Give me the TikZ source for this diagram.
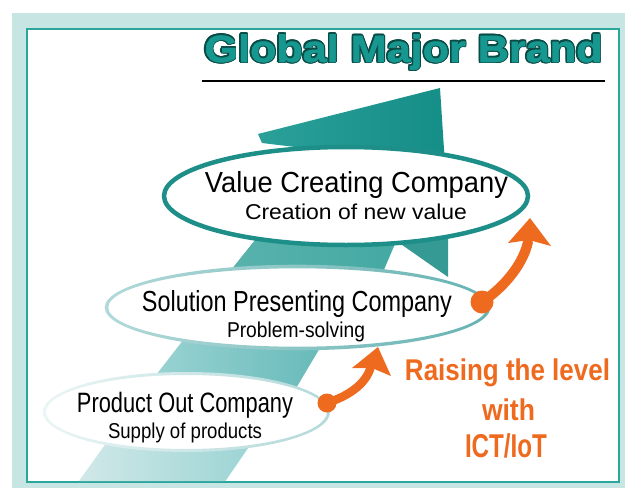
\documentclass[tikz,border=0pt]{standalone}
\usepackage{fontspec}
\setmainfont{Liberation Sans}
\newfontfamily\titleinner{Liberation Sans Bold}[FakeBold=1.5]
\usepackage{graphicx}
\definecolor{outerbg}{HTML}{C7E6E3}
\definecolor{framecol}{HTML}{2CA59C}
\definecolor{titlefill}{HTML}{16978F}
\definecolor{titleline}{HTML}{0B4B46}
\definecolor{vring}{HTML}{1E8F88}
\definecolor{headL}{HTML}{2AA099}
\definecolor{headR}{HTML}{158E87}
\definecolor{bandAL}{HTML}{5AB3AD}
\definecolor{bandAR}{HTML}{43A9A2}
\definecolor{arroworange}{HTML}{EE6A1F}
\newcommand{\gmbtitle}{\resizebox{398pt}{\height}{Global Major Brand}}
\begin{document}
\begin{tikzpicture}[x=1pt,y=-1pt,
  titlestyle/.style={font=\fontsize{38}{40}\selectfont\bfseries, anchor=base, inner sep=0},
  bigtxt/.style={font=\fontsize{29}{32}\selectfont, anchor=base, inner sep=0, text=black},
  smalltxt/.style={font=\fontsize{21.5}{24}\selectfont, anchor=base, inner sep=0, text=black},
  orangetxt/.style={font=\fontsize{30}{32}\selectfont\bfseries, anchor=base, inner sep=0, text=arroworange},
  shaft/.style={draw=arroworange, line width=8.5, line cap=round},
  tipfill/.style={fill=arroworange}]
\useasboundingbox (0,0) rectangle (625,488);
% frames
\fill[outerbg] (12,13) rectangle (625,488);
\draw[framecol, line width=1.5, fill=white] (27,29) rectangle (619,482);
% title: dark outline made of offset copies, teal face on top
\foreach \a in {0,22.5,...,337.5}
  \node[titlestyle, text=titleline, xshift={1.5*cos(\a)}, yshift={1.5*sin(\a)}] at (403.5,62) {\gmbtitle};
\node[titlestyle, text=titlefill] (title) at (403.5,62) {\titleinner\gmbtitle};
\coordinate (ulL) at (202,81);
\coordinate (ulR) at (605,81);
\draw[black, line width=1.6] (ulL) -- (ulR);
% ellipse centres
\coordinate (vc) at (346,196);
\coordinate (sc) at (297.5,307.5);
\coordinate (pc) at (186.5,412);
% ribbon pieces
\shade[left color=headL, right color=headR]
  (258,134) -- (440,88) -- (446,180) -- (320,180) -- (320,150) -- (262,143) -- cycle;
\shade[left color=bandAL, right color=bandAR]
  (267,225) -- (403,225) -- (377.5,285) -- (219,285) -- cycle;
\fill[vring!90!white] (395,240) -- (448,225) -- (448,277) -- cycle;
\shade[left color=teal!35!white!95!cyan, right color=teal!58!white!95!cyan]
  (191,330) -- (330.6,330) -- (292,395) -- (140.5,395) -- cycle;
\shade[left color=teal!18!white, right color=teal!36!white!95!cyan]
  (112,435) -- (257,435) -- (225.5,481) -- (79,481) -- cycle;
% ellipses
\fill[white] (pc) ellipse (142 and 38.5);
\shade[even odd rule, left color=teal!8!white, right color=teal!30!white]
  (pc) ellipse (143.5 and 40) (pc) ellipse (140.5 and 37);
\fill[white] (sc) ellipse (191 and 41);
\shade[even odd rule, left color=teal!30!white, right color=teal!60!white]
  (sc) ellipse (192.8 and 42.8) (sc) ellipse (189.2 and 39.2);
\draw[vring, line width=4.5, fill=white] (vc) ellipse (182 and 49);
% texts
\node[bigtxt] (vt) at (356.5,192) {\resizebox{303pt}{\height}{Value Creating Company}};
\node[smalltxt] (vs) at (356,219) {\resizebox{222pt}{\height}{Creation of new value}};
\node[bigtxt] (st) at (297,311) {\resizebox{310pt}{\height}{Solution Presenting Company}};
\node[smalltxt] (ss) at (296,337) {\resizebox{138pt}{\height}{Problem-solving}};
\node[bigtxt, font=\fontsize{28}{30}\selectfont] (pt) at (185,412) {\resizebox{216pt}{\height}{Product Out Company}};
\node[smalltxt] (ps) at (185,438) {\resizebox{154pt}{\height}{Supply of products}};
\node[orangetxt] (r1) at (507.5,380) {\resizebox{205pt}{\height}{Raising the level}};
\node[orangetxt] (r2) at (508.5,420) {\resizebox{53pt}{\height}{with}};
\node[orangetxt, font=\fontsize{33}{35}\selectfont\bfseries] (r3) at (506,457) {\resizebox{82pt}{\height}{ICT/IoT}};
% orange arrows
\coordinate (a1s) at (327,403);
\coordinate (a1e) at (371,366);
\coordinate (a1t) at (378,347);
\draw[shaft] (a1s) .. controls (345,397) and (366,386) .. (a1e);
\fill[tipfill] (a1t) -- (391,376) -- (372,368) -- (352,368) -- cycle;
\fill[arroworange] (a1s) circle (9.5);
\coordinate (a2s) at (482,302);
\coordinate (a2e) at (528,242);
\coordinate (a2t) at (530,218);
\draw[shaft, line width=10] (a2s) .. controls (500,290) and (522,268) .. (a2e);
\fill[tipfill] (a2t) -- (551,246) -- (529,240) -- (508,243) -- cycle;
\fill[arroworange] (a2s) circle (11.5);
\end{tikzpicture}
\end{document}
